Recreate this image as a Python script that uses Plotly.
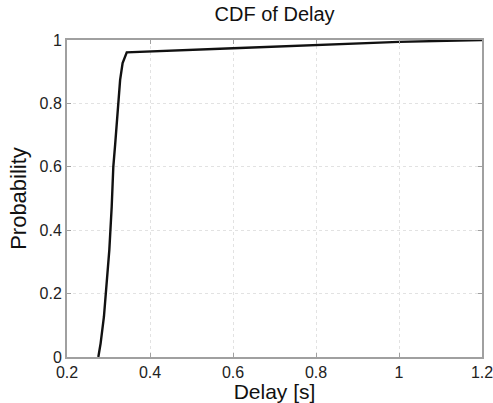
import plotly.graph_objects as go

# Empirical CDF of delay (seconds vs. cumulative probability)
delay_s = [0.2755, 0.281, 0.289, 0.2957, 0.302, 0.3077, 0.3116, 0.316, 0.321,
           0.328, 0.334, 0.344, 0.6, 0.8, 1.0, 1.2]
probability = [0.0, 0.043, 0.127, 0.232, 0.338, 0.474, 0.600, 0.670, 0.769,
               0.874, 0.927, 0.961, 0.974, 0.984, 0.994, 1.0]

x_ticks = [0.2, 0.4, 0.6, 0.8, 1.0, 1.2]
x_tick_labels = ["0.2", "0.4", "0.6", "0.8", "1", "1.2"]
y_ticks = [0, 0.2, 0.4, 0.6, 0.8, 1.0]
y_tick_labels = ["0", "0.2", "0.4", "0.6", "0.8", "1"]

font_family = "Liberation Sans, Arial, sans-serif"

fig = go.Figure(
    go.Scatter(
        x=delay_s, y=probability, mode="lines",
        line=dict(color="#111111", width=2.4),
        hoverinfo="skip", showlegend=False,
    )
)

axis_common = dict(
    showline=True, linecolor="#a0a0a0", linewidth=2, mirror="ticks",
    ticks="inside", ticklen=4, tickcolor="#a0a0a0",
    showgrid=True, gridcolor="#e2e2e2", gridwidth=1, griddash="dot",
    zeroline=False, automargin=False, ticklabeloverflow="allow",
    tickfont=dict(family=font_family, size=16, color="#222222"),
)

fig.update_xaxes(
    range=[0.2, 1.2], tickvals=x_ticks, ticktext=x_tick_labels,
    title=dict(text="Delay [s]", font=dict(family=font_family, size=21, color="#111111"),
               standoff=3),
    **axis_common,
)
fig.update_yaxes(
    range=[0, 1], tickvals=y_ticks, ticktext=y_tick_labels,
    title=dict(text="Probability", font=dict(family=font_family, size=22, color="#111111"),
               standoff=7),
    **axis_common,
)

fig.update_layout(
    width=493, height=403,
    margin=dict(l=67, r=11, t=40, b=46),
    paper_bgcolor="white", plot_bgcolor="white",
    title=dict(text="CDF of Delay", x=0.557, xanchor="center", y=0.966, yanchor="middle",
               font=dict(family=font_family, size=20, color="#111111")),
)

fig.write_html("out.html")
